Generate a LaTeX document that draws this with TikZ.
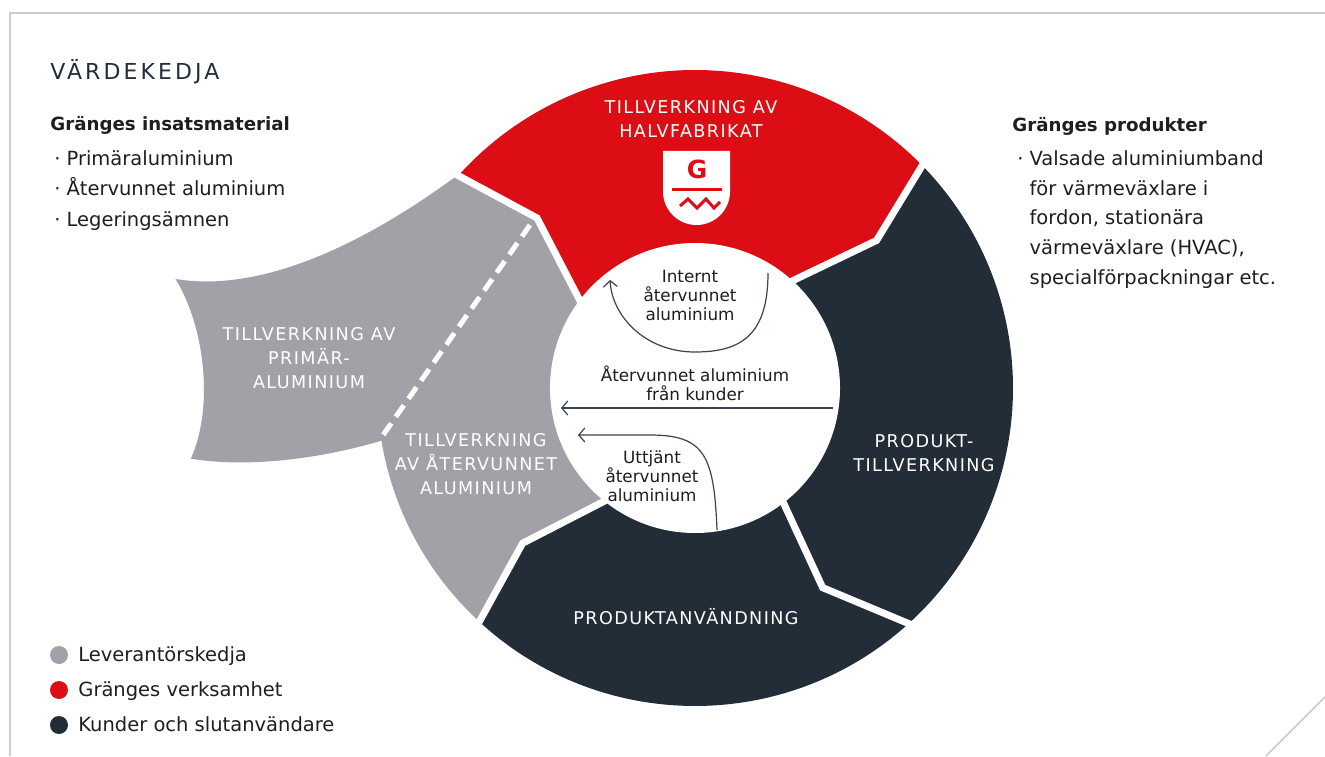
\documentclass[tikz,border=0pt]{standalone}
\usepackage{fontspec}
\setmainfont{DejaVu Sans}
\newfontfamily\capsfont[LetterSpace=8]{DejaVu Sans}
\newfontfamily\titlefont[LetterSpace=14]{DejaVu Sans}
\usetikzlibrary{arrows.meta}
\definecolor{gred}{HTML}{DC0D15}
\definecolor{gnavy}{HTML}{232D38}
\definecolor{ggrey}{HTML}{A2A1A8}
\definecolor{gframe}{HTML}{CACACF}
\definecolor{garrow}{HTML}{3A4352}
\definecolor{gtext}{HTML}{1E1E22}
\newcommand{\blt}{·\hspace{3pt}}

\begin{document}
\begin{tikzpicture}[x=0.5pt,y=0.5pt,
	seg/.style={white,font=\fontsize{8.8}{11.8}\capsfont,align=center},
	flowtext/.style={text=gtext,font=\fontsize{8.4}{9.5}\selectfont,align=center},
	flow/.style={draw=garrow,line width=0.6pt,-{Straight Barb[length=3pt,width=7pt]}},
	gap/.style={white,line width=3.5pt,shorten <=-2pt,shorten >=-3pt},
	list/.style={anchor=base west,inner sep=0pt,align=left,text=gtext,font=\fontsize{9.75}{15}\selectfont},
	dot/.style={circle,inner sep=0pt,minimum size=9pt}]
\useasboundingbox (0,0) rectangle (1325,756);
\draw[gframe,line width=0.75pt] (10,0) -- (10,743) -- (1325,743);
\draw[gframe,line width=0.75pt] (1266,0) -- (1325,59);

% primary aluminium piece outside the ring
\path[fill=ggrey,draw=ggrey,line width=0.8pt] (458.2,580.3) .. controls (370,515) and (265,462) .. (177,476)
	.. controls (205,430) and (215,350) .. (192,298)
	.. controls (240,290) and (310,295) .. (381.3,316.1)
	arc[start angle=189.4,end angle=138.1,radius=318] -- cycle;

\begin{scope}[shift={(695,368)}]
\fill[ggrey] (0,0) -- (-128.7:145) -- (-138:232) -- (-132.7:318) arc[start angle=-132.7,end angle=-221.9,radius=318] -- (132.9:232) -- (142.7:145) -- cycle;
\fill[gred] (0,0) -- (142.7:145) -- (132.9:232) -- (138.1:318) arc[start angle=138.1,end angle=44.4,radius=318] -- (39.1:234) -- (47.7:145) -- cycle;
\fill[gnavy] (0,0) -- (47.7:145) -- (39.1:234) -- (44.4:318) arc[start angle=44.4,end angle=-47.8,radius=318] -- (-57.4:237) -- (-52.4:145) -- cycle;
\fill[gnavy] (0,0) -- (-52.4:145) -- (-57.4:237) -- (-47.8:318) arc[start angle=-47.8,end angle=-132.7,radius=318] -- (-138:232) -- (-128.7:145) -- cycle;
\draw[gap] (47.7:145) -- (39.1:234) -- (44.4:318);
\draw[gap] (142.7:145) -- (132.9:232) -- (138.1:318);
\draw[gap] (-128.7:145) -- (-138:232) -- (-132.7:318);
\draw[gap] (-52.4:145) -- (-57.4:237) -- (-47.8:318);
\fill[white] (0,0) circle[radius=145];
\end{scope}
\draw[white,line width=2.5pt,dash pattern=on 7pt off 4pt] (530,531) -- (381,318);

% segment texts
\node[seg] (halvfab) at (691,637) {TILLVERKNING AV\\HALVFABRIKAT};
\node[seg] (prodtillv) at (924,303) {PRODUKT-\\TILLVERKNING};
\node[seg] (prodanv) at (686,139) {PRODUKTANVÄNDNING};
\node[seg] (atervunnet) at (476,292) {TILLVERKNING\\AV ÅTERVUNNET\\ALUMINIUM};
\node[seg] (primar) at (309,398) {TILLVERKNING AV\\PRIMÄR-\\ALUMINIUM};

% logo
\fill[white] (663,605) -- (730,605) -- (730,564.5) arc[start angle=0,end angle=-180,radius=33.5] -- cycle;
\node[text=gred,font=\fontsize{12.5}{12}\bfseries] (logoG) at (697,587) {G};
\draw[gred,line width=1.5pt] (672,566) -- (722,566);
\draw[gred,line width=1.5pt] (680,550) -- (688,557) -- (697,548) -- (706,557) -- (714,548) -- (720,554);

% flows in the middle
\node[flowtext] (internt) at (690,461) {Internt\\återvunnet\\aluminium};
\node[flowtext] (kunder) at (695,373) {Återvunnet aluminium\\från kunder};
\node[flowtext] (uttjant) at (652,280) {Uttjänt\\återvunnet\\aluminium};
\coordinate (int1) at (768,483); \coordinate (int2) at (610,476);
\coordinate (kund1) at (833,348); \coordinate (kund2) at (561,348);
\coordinate (utt1) at (717,226); \coordinate (utt2) at (578,321);
\draw[flow] (int1) .. controls (768,420) and (740,404) .. (695,404) .. controls (645,404) and (612,440) .. (int2);
\draw[flow] (kund1) -- (kund2);
\draw[flow] (utt1) .. controls (714,300) and (705,321) .. (650,321) -- (utt2);

% texts left and right
\node[anchor=base west,inner sep=0pt,text=gnavy,font=\fontsize{11}{12}\titlefont] (title) at (50,676) {VÄRDEKEDJA};
\node[anchor=base west,inner sep=0pt,text=gtext,font=\fontsize{9.1}{12}\bfseries] (inhead) at (50,625) {Gränges insatsmaterial};
\node[list] (inlist) at (54,530) {\blt Primäraluminium\\\blt Återvunnet aluminium\\\blt Legeringsämnen};
\node[anchor=base west,inner sep=0pt,text=gtext,font=\fontsize{9.1}{12}\bfseries] (uthead) at (1012,624) {Gränges produkter};
\node[list,font=\fontsize{9.75}{14.8}\selectfont] (utlist) at (1017,472) {\blt Valsade aluminiumband\\\phantom{\blt}för värmeväxlare i\\\phantom{\blt}fordon, stationära\\\phantom{\blt}värmeväxlare (HVAC),\\\phantom{\blt}specialförpackningar etc.};

% legend
\node[dot,fill=ggrey] (dot1) at (59,101) {};
\node[dot,fill=gred] (dot2) at (59,66) {};
\node[dot,fill=gnavy] (dot3) at (59,31) {};
\node[list] (leg1) at (78,95) {Leverantörskedja};
\node[list] (leg2) at (78,60) {Gränges verksamhet};
\node[list] (leg3) at (78,25) {Kunder och slutanvändare};
\end{tikzpicture}
\end{document}
